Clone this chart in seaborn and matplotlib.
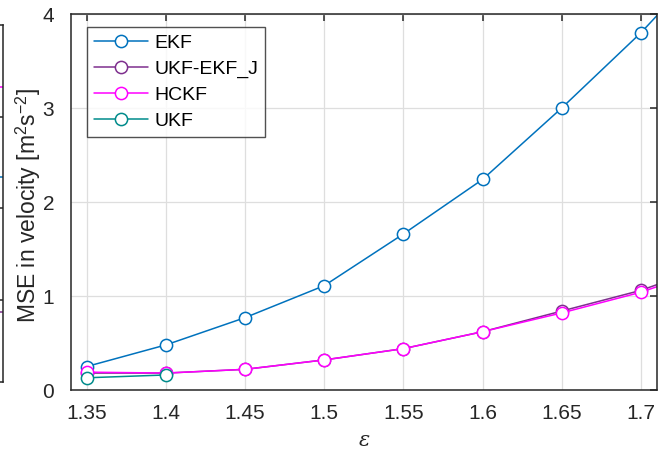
import matplotlib
matplotlib.use("Agg")
import matplotlib.pyplot as plt
import seaborn as sns
import pandas as pd
import numpy as np

# ---- data ----
eps = [1.35, 1.40, 1.45, 1.50, 1.55, 1.60, 1.65, 1.70, 1.75]
ekf = [0.25, 0.48, 0.77, 1.11, 1.66, 2.24, 3.00, 3.80, 4.70]
ukf_ekf_j = [0.18, 0.18, 0.22, 0.32, 0.44, 0.62, 0.84, 1.06, 1.36]
hckf = [0.19, 0.18, 0.22, 0.32, 0.44, 0.62, 0.82, 1.04, 1.33]
eps_ukf = [1.35, 1.40]
ukf = [0.13, 0.16]

xtick_vals = [1.35, 1.40, 1.45, 1.50, 1.55, 1.60, 1.65, 1.70]
xtick_labels = ["1.35", "1.4", "1.45", "1.5", "1.55", "1.6", "1.65", "1.7"]
ytick_vals = [0, 1, 2, 3, 4]

# remnant of the neighbouring subplot (left edge)
rem_x = [0.8, 1.2]
rem_mag = [295, 295]
rem_blue = [205, 205]
rem_purp = [70, 70]

series = [
    ("EKF", eps, ekf, "#0072BD"),
    ("UKF-EKF_J", eps, ukf_ekf_j, "#7E2F8E"),
    ("HCKF", eps, hckf, "#FF00FF"),
    ("UKF", eps_ukf, ukf, "#008B8B"),
]

sns.set_theme(style="white")
plt.rcParams["font.family"] = ["Liberation Sans", "DejaVu Sans"]
plt.rcParams["mathtext.fontset"] = "custom"
plt.rcParams["mathtext.rm"] = "Liberation Sans"
plt.rcParams["mathtext.it"] = "DejaVu Serif:italic"

W, H = 664, 455
fig = plt.figure(figsize=(W / 100, H / 100), dpi=100)

axis_col = "#262626"

# main axes
ax = fig.add_axes([71 / W, (H - 390) / H, (657 - 71) / W, (390 - 14) / H])
for name, xs, ys, c in series:
    df = pd.DataFrame({"x": xs, "y": ys})
    sns.lineplot(data=df, x="x", y="y", ax=ax, color=c, label=name,
                 marker="o", markersize=8.8, markerfacecolor="white",
                 markeredgecolor=c, markeredgewidth=1.1, linewidth=1.1,
                 estimator=None, sort=False, clip_on=True)

ax.set_xlim(1.34, 1.7102)
ax.set_ylim(0, 4)
ax.set_xticks(xtick_vals)
ax.set_xticklabels(xtick_labels)
ax.set_yticks(ytick_vals)
ax.grid(True, color="#dedede", linewidth=0.9)
ax.set_axisbelow(True)
ax.tick_params(direction="in", top=True, right=True, length=5, width=1.1,
               color=axis_col, labelcolor=axis_col, labelsize=15)
ax.tick_params(axis="x", pad=10)
ax.tick_params(axis="y", pad=12)
for s in ax.spines.values():
    s.set_color(axis_col)
    s.set_linewidth(1.1)
ax.set_xlabel("\u03b5", fontsize=15, color=axis_col, labelpad=6,
              fontstyle="italic", family=["DejaVu Serif"])
ax.set_ylabel(r"MSE in velocity [m$^{2}$s$^{-2}$]",
              fontsize=16.5, color=axis_col)
ax.yaxis.set_label_coords(-0.047, 0.49)

leg = ax.legend(loc="upper left", bbox_to_anchor=(0.0273, 0.965),
                borderaxespad=0, fontsize=14, frameon=True, fancybox=False,
                handlelength=2.8, handletextpad=0.3, labelspacing=0.44,
                borderpad=0.35)
leg.get_frame().set_edgecolor(axis_col)
leg.get_frame().set_linewidth(1.0)
for t in leg.get_texts():
    t.set_color("black")

# remnant axes at the left edge
ax2 = fig.add_axes([-300 / W, (H - 382) / H, 302.5 / W, (382 - 25) / H])
ax2.set_xlim(0, 1)
ax2.set_ylim(0, 357)
for c, yy in [("#FF00FF", rem_mag), ("#0072BD", rem_blue), ("#7E2F8E", rem_purp)]:
    ax2.plot(rem_x, yy, color=c, linewidth=1.1, clip_on=True)
ax2.set_yticks([82, 174, 265])
ax2.set_yticklabels([])
ax2.set_xticks([])
ax2.tick_params(direction="in", right=True, left=False, length=5, width=1.1,
                color=axis_col)
for s in ax2.spines.values():
    s.set_color(axis_col)
    s.set_linewidth(1.1)

fig.savefig("out.png", dpi=100)
